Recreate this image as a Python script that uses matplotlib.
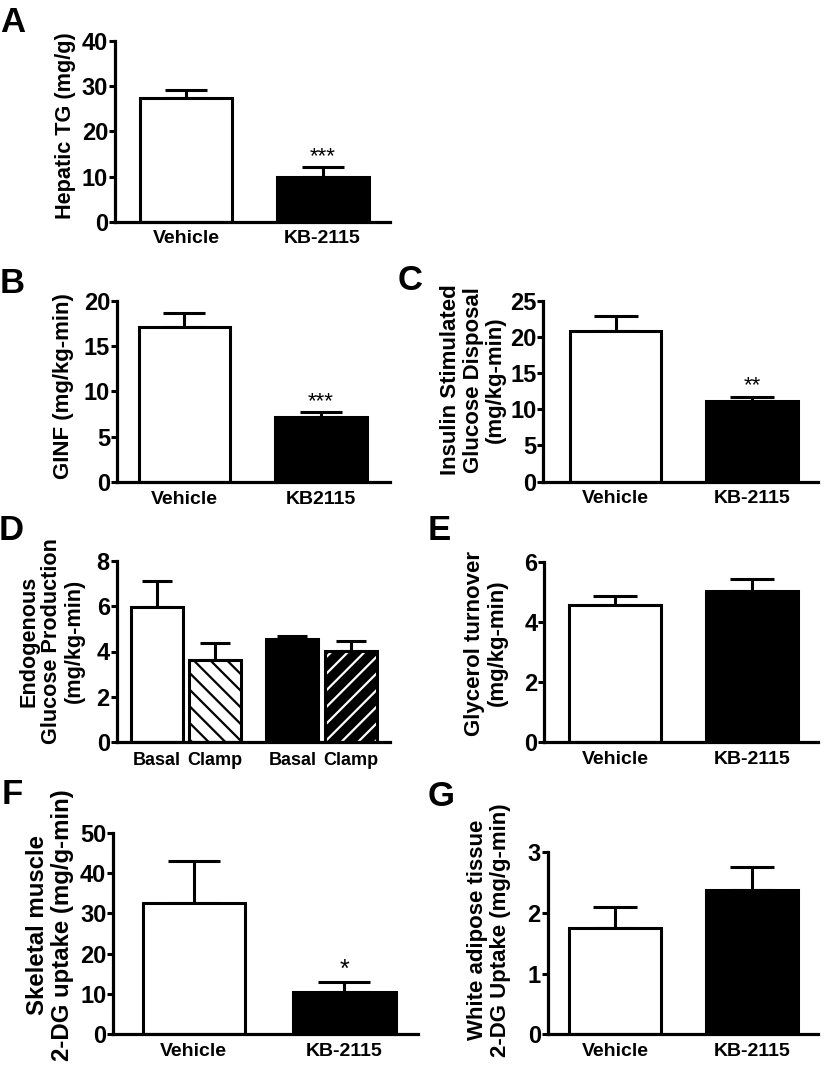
import matplotlib
matplotlib.use("Agg")
import matplotlib.pyplot as plt
import numpy as np

plt.rcParams['font.family'] = ['Liberation Sans', 'DejaVu Sans']
plt.rcParams['font.weight'] = 'bold'
plt.rcParams['hatch.linewidth'] = 1.6

W, H = 825, 1070
fig = plt.figure(figsize=(W / 100, H / 100), dpi=100)

# ---------------- data ----------------
groups = ["Vehicle", "KB-2115"]
groups_b = ["Vehicle", "KB2115"]

hepatic_tg = [27.3, 10.0]
hepatic_tg_err = [1.8, 2.2]

ginf = [17.1, 7.2]
ginf_err = [1.6, 0.5]

glucose_disposal = [20.8, 11.2]
glucose_disposal_err = [2.1, 0.55]

egp_labels = ["Basal", "Clamp", "Basal", "Clamp"]
egp = [5.95, 3.63, 4.55, 4.01]
egp_err = [1.14, 0.74, 0.13, 0.44]

glycerol = [4.56, 5.04]
glycerol_err = [0.30, 0.37]

skm_2dg = [32.6, 10.6]
skm_2dg_err = [10.4, 2.3]

wat_2dg = [1.75, 2.38]
wat_2dg_err = [0.35, 0.37]

stars_a = ["", "***"]
stars_b = ["", "***"]
stars_c = ["", "**"]
stars_f = ["", "*"]


# ---------------- helpers ----------------
def px_axes(x0, ytop, x1, ybot):
    return fig.add_axes([x0 / W, 1 - ybot / H, (x1 - x0) / W, (ybot - ytop) / H])


def style(ax, ylim, yticks, xlim):
    ax.set_ylim(*ylim)
    ax.set_xlim(*xlim)
    ax.set_yticks(yticks)
    for s in ["top", "right"]:
        ax.spines[s].set_visible(False)
    for s in ["left", "bottom"]:
        ax.spines[s].set_linewidth(2.3)
    ax.tick_params(axis="y", direction="out", length=4, width=2.2, pad=1,
                   labelsize=17)
    ax.tick_params(axis="x", length=0, pad=6, labelsize=14)
    for lab in ax.get_yticklabels() + ax.get_xticklabels():
        lab.set_fontweight("bold")


def two_bars(ax, vals, errs, labels, width, capsize, stars=None, star_size=16):
    x = np.arange(len(vals))
    ax.bar(x, vals, width, color=["white", "black"], edgecolor="black",
           linewidth=2.2, zorder=2)
    ax.errorbar(x, vals, yerr=[np.zeros(len(errs)), errs], fmt="none",
                ecolor="black", elinewidth=2.2, capsize=capsize, capthick=2.2,
                zorder=1)
    ax.set_xticks(x)
    ax.set_xticklabels(labels)
    if stars:
        for xi, v, e, s in zip(x, vals, errs, stars):
            if s:
                ax.annotate(s, (xi, v + e), xytext=(0, 0), textcoords="offset points",
                            ha="center", va="bottom", fontsize=star_size,
                            fontweight="normal")


def ylabel(text, xc, yc, size=16, ls=1.1):
    fig.text(xc / W, 1 - yc / H, text, rotation=90, ha="center", va="center",
             fontsize=size, fontweight="bold", multialignment="center",
             linespacing=ls)


def letter(t, xc, yc):
    fig.text(xc / W, 1 - yc / H, t, ha="center", va="center", fontsize=25,
             fontweight="bold")


# ---------------- A ----------------
axA = px_axes(115, 40.7, 390, 222)
two_bars(axA, hepatic_tg, hepatic_tg_err, groups, 0.674, 15, stars_a)
style(axA, (0, 40), [0, 10, 20, 30, 40], (-0.52, 1.494))
ylabel("Hepatic TG (mg/g)", 66, 126, size=15.6)
letter("A", 13, 22)

# ---------------- B ----------------
axB = px_axes(117, 300.7, 390, 482.3)
two_bars(axB, ginf, ginf_err, groups_b, 0.67, 15, stars_b)
style(axB, (0, 20), [0, 5, 10, 15, 20], (-0.494, 1.505))
ylabel("GINF (mg/kg-min)", 64, 386)
letter("B", 12, 283)

# ---------------- C ----------------
axC = px_axes(543.3, 300.7, 818, 481.7)
two_bars(axC, glucose_disposal, glucose_disposal_err, groups, 0.67, 16, stars_c)
style(axC, (0, 25), [0, 5, 10, 15, 20, 25], (-0.532, 1.485))
ylabel("Insulin Stimulated\nGlucose Disposal\n(mg/kg-min)", 473, 380, size=16)
letter("C", 410, 281)

# ---------------- D ----------------
axD = px_axes(116.7, 560.7, 390, 742.3)
xd = np.array([0, 1, 2.32, 3.32])
wd = 0.89
axD.bar(xd[0], egp[0], wd, color="white", edgecolor="black", linewidth=2.2, zorder=2)
axD.bar(xd[1], egp[1], wd, color="white", edgecolor="black", hatch="\\\\",
        linewidth=2.2, zorder=2)
axD.bar(xd[2], egp[2], wd, color="black", edgecolor="black", linewidth=2.2, zorder=2)
axD.bar(xd[3], egp[3], wd, color="black", edgecolor="white", hatch="//",
        linewidth=0, zorder=2)
axD.bar(xd[3], egp[3], wd, fill=False, edgecolor="black", linewidth=2.2, zorder=3)
axD.errorbar(xd, egp, yerr=[np.zeros(4), egp_err], fmt="none", ecolor="black",
             elinewidth=2.2, capsize=11, capthick=2.2, zorder=1)
axD.set_xticks(xd)
axD.set_xticklabels(egp_labels)
style(axD, (0, 8), [0, 2, 4, 6, 8], (-0.684, 3.99))
axD.tick_params(axis="x", labelsize=13, pad=7)
for lab in axD.get_xticklabels():
    lab.set_fontweight("bold")
ylabel("Endogenous\nGlucose Production\n(mg/kg-min)", 52, 641, size=15.6)
letter("D", 11, 531)

# ---------------- E ----------------
axE = px_axes(544.3, 561.7, 818, 742.3)
two_bars(axE, glycerol, glycerol_err, groups, 0.67, 16)
style(axE, (0, 6), [0, 2, 4, 6], (-0.519, 1.482))
ylabel("Glycerol turnover\n(mg/kg-min)", 486, 643, size=16)
letter("E", 439, 531)

# ---------------- F ----------------
axF = px_axes(113.3, 832.7, 418, 1034.3)
two_bars(axF, skm_2dg, skm_2dg_err, groups, 0.679, 19, stars_f, star_size=18)
style(axF, (0, 50), [0, 10, 20, 30, 40, 50], (-0.534, 1.488))
ylabel("Skeletal muscle\n2-DG uptake (mg/g-min)", 50, 925, size=17.3)
letter("F", 12, 795)

# ---------------- G ----------------
axG = px_axes(547.7, 852.3, 818, 1034.3)
two_bars(axG, wat_2dg, wat_2dg_err, groups, 0.67, 16)
style(axG, (0, 3), [0, 1, 2, 3], (-0.494, 1.482))
ylabel("White adipose tissue\n2-DG Uptake (mg/g-min)", 489, 930, size=16)
letter("G", 441, 797)

fig.savefig("out.png", dpi=100)
